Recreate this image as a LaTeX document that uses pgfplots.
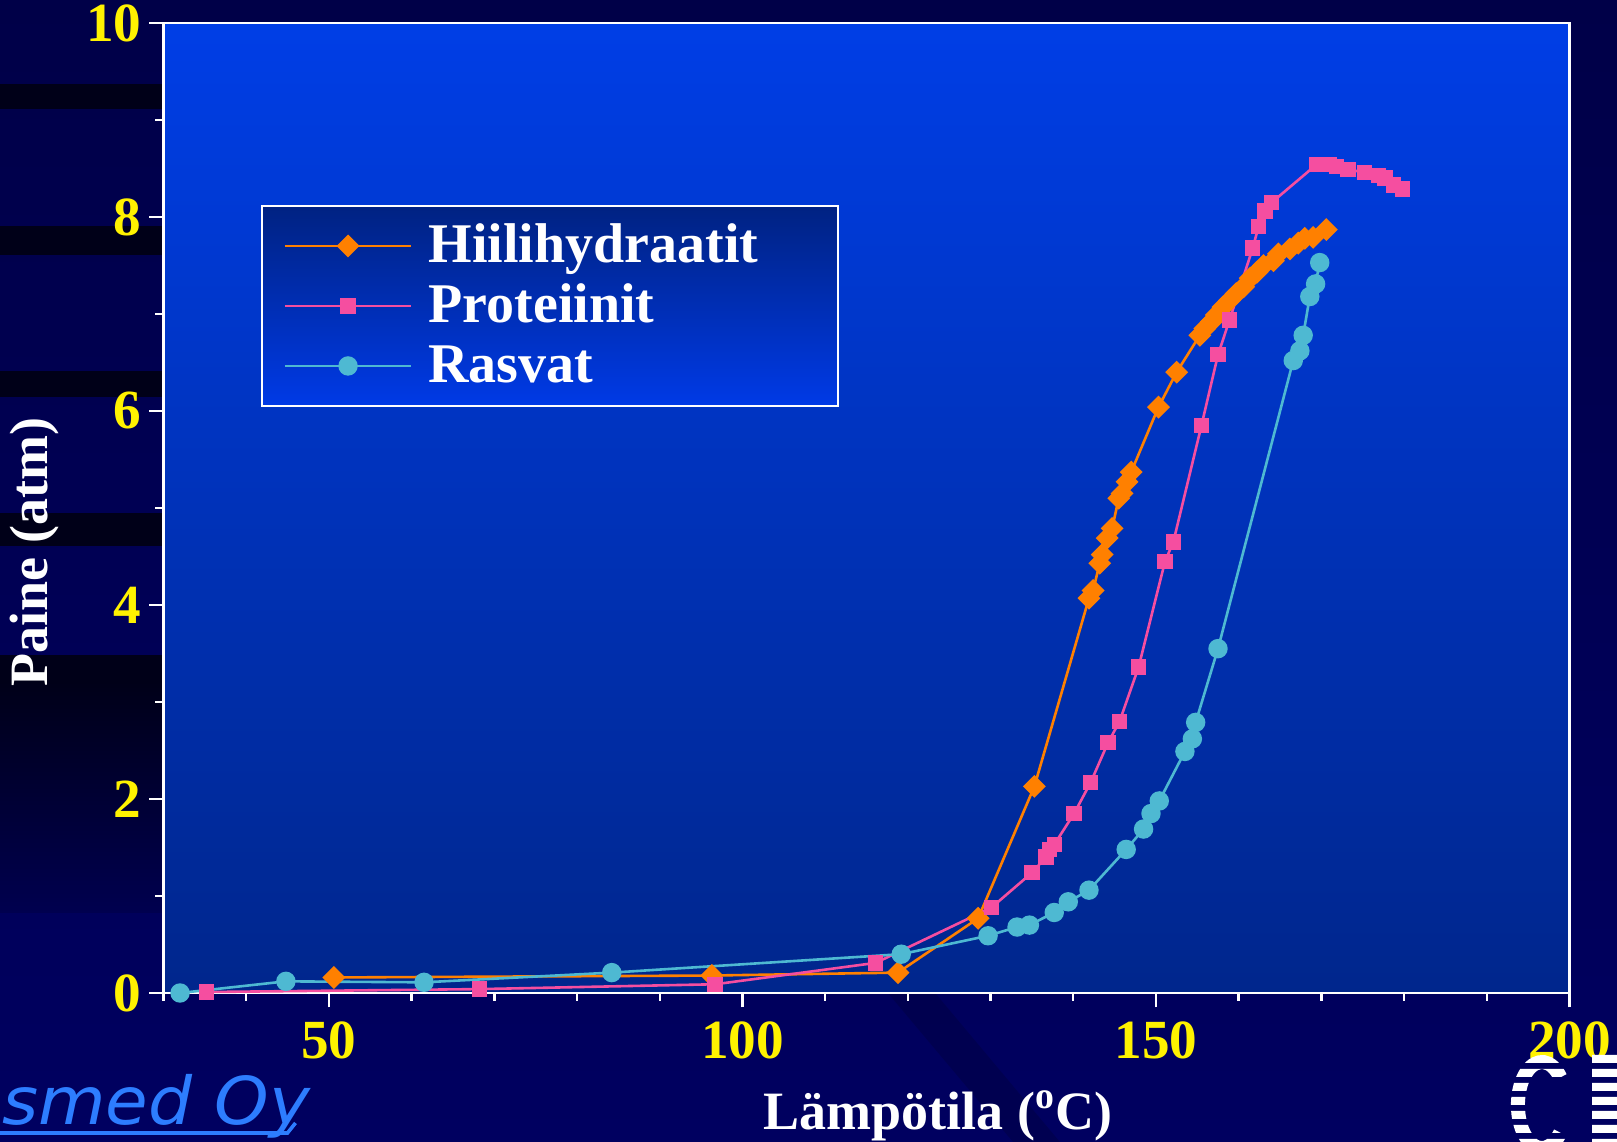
\documentclass[border=0pt]{standalone}
\usepackage{pgfplots}
\pgfplotsset{compat=1.18}
\usepackage{fontspec}
\setmainfont{Liberation Serif}
\newfontfamily\logofont{DejaVu Sans}[FakeStretch=1.05]
\definecolor{bgtop}{RGB}{0,0,72}
\definecolor{bgbot}{RGB}{0,0,96}
\definecolor{band}{RGB}{0,0,24}
\definecolor{plottop}{RGB}{0,62,230}
\definecolor{plotbot}{RGB}{0,38,140}
\definecolor{legtop}{RGB}{0,34,130}
\definecolor{legbot}{RGB}{0,58,230}
\definecolor{corange}{RGB}{255,128,0}
\definecolor{cpink}{RGB}{245,78,160}
\definecolor{ccyan}{RGB}{78,185,210}
\definecolor{logoblue}{RGB}{45,125,255}

\pgfplotstableread{
x y
50.6 0.16
96.3 0.18
118.8 0.21
128.5 0.77
135.3 2.13
141.9 4.07
142.4 4.15
143.2 4.43
143.5 4.52
144.1 4.69
144.7 4.79
145.5 5.10
145.9 5.15
146.5 5.27
147.0 5.37
150.3 6.04
152.5 6.40
155.3 6.78
155.9 6.85
156.7 6.92
157.3 6.99
158.1 7.07
158.9 7.14
159.7 7.21
160.6 7.28
161.4 7.37
162.2 7.43
163.0 7.50
164.2 7.55
164.8 7.62
166.2 7.67
167.2 7.73
168.0 7.78
169.0 7.79
170.6 7.87
}\hiili

\pgfplotstableread{
x y
35.2 0.01
68.2 0.04
96.7 0.09
116.1 0.31
130.1 0.88
135.0 1.24
136.7 1.40
137.1 1.48
137.7 1.53
140.1 1.85
142.1 2.17
144.2 2.58
145.6 2.80
147.9 3.36
151.1 4.45
152.1 4.65
155.5 5.85
157.5 6.58
158.9 6.94
161.7 7.68
162.4 7.90
163.2 8.06
164.0 8.15
169.4 8.54
171.0 8.54
171.8 8.52
173.2 8.49
175.2 8.46
176.9 8.43
177.7 8.40
178.7 8.33
179.8 8.29
}\prot

\pgfplotstableread{
x y
32.0 0.00
44.8 0.12
61.5 0.11
84.2 0.21
119.2 0.40
129.7 0.59
133.2 0.68
134.7 0.70
137.7 0.83
139.4 0.94
141.9 1.06
146.4 1.48
148.5 1.69
149.4 1.85
150.4 1.98
153.5 2.49
154.4 2.62
154.8 2.79
157.5 3.55
166.6 6.52
167.4 6.62
167.8 6.78
168.6 7.18
169.3 7.31
169.8 7.53
}\rasva

\begin{document}
\begin{tikzpicture}
% slide background
\shade[top color=bgtop, bottom color=bgbot] (-40.875pt,-37.25pt) rectangle (363.375pt,248.25pt);
\fill[band] (-40.875pt,221pt) rectangle (0pt,227.25pt);
\fill[band] (-40.875pt,184.5pt) rectangle (0pt,191.75pt);
\fill[band] (-40.875pt,149pt) rectangle (0pt,155.5pt);
\fill[band] (-40.875pt,111.75pt) rectangle (0pt,120pt);
\fill[band] (-40.875pt,78pt) rectangle (0pt,84.5pt);
\shade[top color=band, bottom color=bgtop!70!bgbot] (-40.875pt,20pt) rectangle (0pt,78pt);
\fill[black!30!bgbot, opacity=0.5] (181.1pt,0pt) -- (192.9pt,0pt) -- (224.1pt,-37.25pt) -- (212.4pt,-37.25pt) -- cycle;
% logo text
\node[anchor=base west, inner sep=0pt, text=logoblue, font=\logofont\itshape\fontsize{16.5}{18}\selectfont] at (-40.5pt,-33pt) {smed Oy};
\draw[logoblue, line width=0.9pt] (-40.875pt,-35pt) -- (31pt,-35pt) -- (33pt,-32.5pt);
\begin{axis}[
  at={(0pt,0pt)}, anchor=south west,
  scale only axis, width=351.5pt, height=242.5pt,
  xmin=30, xmax=200, ymin=0, ymax=10,
  clip=false,
  axis background/.style={top color=plottop, bottom color=plotbot},
  axis line style={white, line width=0.6pt},
  tick style={white, line width=0.6pt},
  tick align=outside, tick pos=left,
  major tick length=3.6pt, minor tick length=2pt,
  xtick={50,100,150,200},
  minor xtick={30,40,60,70,80,90,110,120,130,140,160,170,180,190},
  ytick={0,2,4,6,8,10},
  minor ytick={1,3,5,7,9},
  /pgf/number format/assume math mode=true,
  ticklabel style={font=\fontsize{13.8}{16}\selectfont\bfseries, text=yellow, inner sep=0pt},
  xticklabel style={anchor=north, yshift=-3.4pt},
  yticklabel style={anchor=east, xshift=-1.75pt},
  xlabel={Lämpötila (\textsuperscript{o}C)},
  ylabel={Paine (atm)},
  label style={font=\fontsize{13.5}{16}\selectfont\bfseries, text=white},
  xlabel style={at={(axis description cs:0.551,-0.1405)}, anchor=base},
  ylabel style={at={(axis description cs:-0.0914,0.4546)}, anchor=center},
  legend style={at={(axis description cs:0.0693,0.8124)}, anchor=north west,
    draw=white, line width=0.5pt, top color=legtop, bottom color=legbot,
    inner xsep=5.4pt, inner ysep=2.5pt, column sep=4pt, row sep=0pt,
    font=\fontsize{14}{16}\selectfont\bfseries, text=white,
    nodes={inner sep=0pt, text height=11.7pt, text depth=3.3pt}},
  legend cell align=left,
  legend image code/.code={\draw[mark repeat=2,mark phase=2] plot coordinates {(0pt,0pt) (15.8pt,0pt) (31.6pt,0pt)};},
]
\addplot[corange, line width=0.65pt, mark=square*, mark size=1.7pt, mark options={rotate=45, solid, fill=corange}] table[x=x,y=y] {\hiili};
\addlegendentry{\makebox[97pt][l]{Hiilihydraatit}}
\addplot[cpink, line width=0.65pt, mark=square*, mark size=1.6pt, mark options={solid, fill=cpink}] table[x=x,y=y] {\prot};
\addlegendentry{Proteiinit}
\addplot[ccyan, line width=0.65pt, mark=*, mark size=2.1pt, mark options={solid, fill=ccyan}] table[x=x,y=y] {\rasva};
\addlegendentry{Rasvat}
\end{axis}
% striped logo, bottom right
\begin{scope}
\path[clip] \foreach \i in {0,...,6} {(334pt,{-15.5pt-\i*3.5pt}) rectangle (364pt,{-17.5pt-\i*3.5pt})};
\draw[white, line width=3.5pt] (349.2pt,-21.1pt) arc[start angle=40, end angle=320, x radius=6pt, y radius=10.75pt];
\fill[white] (357.1pt,-15pt) rectangle (364pt,-38pt);
\end{scope}
\pgfresetboundingbox
\path[use as bounding box] (-40.875pt,-37.25pt) rectangle (363.375pt,248.25pt);
\end{tikzpicture}
\end{document}
